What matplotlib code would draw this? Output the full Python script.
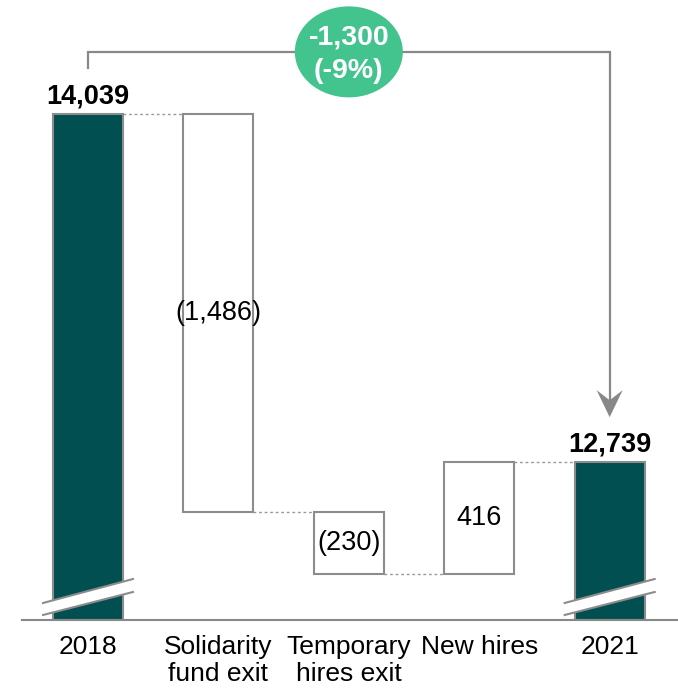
import numpy as np
import matplotlib
matplotlib.use("Agg")
import matplotlib.pyplot as plt
from matplotlib.patches import Ellipse, Polygon

plt.rcParams['font.family'] = ['Liberation Sans', 'DejaVu Sans']

categories = ["2018", "Solidarity\nfund exit", "Temporary\nhires exit", "New hires", "2021"]
start_value = 14039
changes = [-1486, -230, 416]
end_value = 12739
total_change = "-1,300"
total_pct = "(-9%)"

TEAL = '#024f52'
GREEN = '#43c38e'
EDGE = '#8c8c8c'
LINE = '#888888'
FS = 19.5

W, H, DPI = 678, 691, 100
fig = plt.figure(figsize=(W / DPI, H / DPI), dpi=DPI)
ax_l, ax_b, ax_w, ax_h = 22, 71, 656, 620
ax = fig.add_axes([ax_l / W, ax_b / H, ax_w / W, ax_h / H])

base = 12150
xlim = (-0.506, 4.524)
ylim = (base, 14464)
ax.set_xlim(*xlim)
ax.set_ylim(*ylim)
# pixels per data unit, used for the decorations
px_x = ax_w / (xlim[1] - xlim[0])
px_y = ax_h / (ylim[1] - ylim[0])

x = np.arange(len(categories))
bw = 0.537

# totals
for xi, val in [(x[0], start_value), (x[-1], end_value)]:
    ax.bar(xi, val - base, bottom=base, width=bw, color=TEAL,
           edgecolor=EDGE, linewidth=1.5, zorder=2)
    ax.annotate(f"{val:,}", (xi, val), xytext=(0, 7.5), textcoords='offset points',
                ha='center', va='baseline', fontsize=FS, fontweight='bold')

# floating steps
level = start_value
levels = [start_value]
for i, ch in enumerate(changes, start=1):
    lo, hi = min(level, level + ch), max(level, level + ch)
    ax.bar(x[i], hi - lo, bottom=lo, width=bw, color='white',
           edgecolor=EDGE, linewidth=1.5, zorder=2)
    txt = f"({abs(ch):,})" if ch < 0 else f"{ch:,}"
    ax.text(x[i], (lo + hi) / 2, txt, ha='center', va='center', fontsize=FS)
    level += ch
    levels.append(level)

# dotted connectors between neighbouring bars
conn = [start_value, levels[1], levels[2], end_value]
for i, lv in enumerate(conn):
    ax.plot([x[i] + bw / 2, x[i + 1] - bw / 2], [lv, lv], color='#999999',
            lw=1, linestyle=(0, (2, 2)), zorder=1)

# axis break marks on the total bars
for xi in (x[0], x[-1]):
    xl, xr = xi - 45 / px_x, xi + 45 / px_x
    lo_l, lo_r = base + 5 / px_y, base + 28 / px_y
    hi_l, hi_r = base + 17 / px_y, base + 41 / px_y
    ax.add_patch(Polygon([[xl, lo_l], [xr, lo_r], [xr, hi_r], [xl, hi_l]],
                         closed=True, facecolor='white', edgecolor='none', zorder=3))
    ax.plot([xl, xr], [lo_l, lo_r], color=EDGE, lw=1.5, zorder=4)
    ax.plot([xl, xr], [hi_l, hi_r], color=EDGE, lw=1.5, zorder=4)

# bracket with arrow from start to end total
top = start_value + 62 / px_y
stub = start_value + 46 / px_y
tip = end_value + 45 / px_y
notch = tip + 17 / px_y
ax.plot([x[0], x[0], x[-1], x[-1]], [stub, top, top, notch],
        color=LINE, lw=1.6, solid_joinstyle='miter', zorder=3)
ax.add_patch(Polygon([[x[-1], tip], [x[-1] - 13 / px_x, tip + 27 / px_y],
                      [x[-1], notch], [x[-1] + 13 / px_x, tip + 27 / px_y]],
                     closed=True, facecolor=LINE, edgecolor='none', zorder=3))

# change bubble
cx = (x[0] + x[-1]) / 2
ax.add_patch(Ellipse((cx, top), 108 / px_x, 91 / px_y, facecolor=GREEN,
                     edgecolor='none', zorder=5))
ax.text(cx, top + 14 / px_y, total_change, ha='center', va='center',
        fontsize=20.5, fontweight='bold', color='white', zorder=6)
ax.text(cx, top - 19 / px_y, total_pct, ha='center', va='center',
        fontsize=20.5, fontweight='bold', color='white', zorder=6)

for s in ['top', 'right', 'left']:
    ax.spines[s].set_visible(False)
ax.spines['bottom'].set_color(LINE)
ax.spines['bottom'].set_linewidth(1.5)
ax.set_yticks([])
ax.set_xticks(x)
ax.set_xticklabels(categories, fontsize=19, linespacing=1.2)
ax.tick_params(axis='x', length=0, pad=10.5)

fig.savefig('out.png', dpi=DPI)
